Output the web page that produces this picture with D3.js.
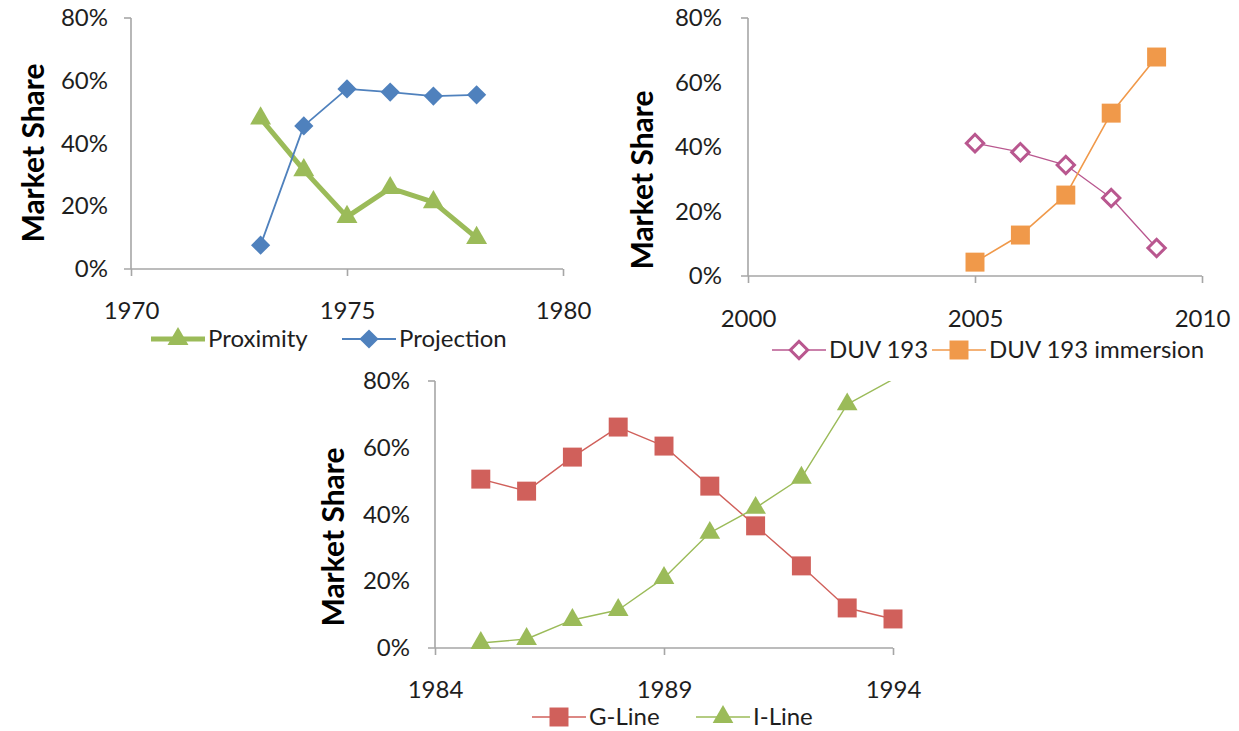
<!DOCTYPE html>
<html><head><meta charset="utf-8">
<script src="https://cdn.jsdelivr.net/npm/d3@7"></script>
<style>
html,body{margin:0;padding:0;background:#fff;}
svg text{font-family:Lato,"Open Sans",sans-serif;fill:#1e1e1e;}
</style></head>
<body><svg id="c" width="1239" height="731"></svg>
<script>
// ---------- data ----------
const yTicks = [0, 0.2, 0.4, 0.6, 0.8];

const years1 = [1973, 1974, 1975, 1976, 1977, 1978];
const proximity = [0.48, 0.315, 0.166, 0.258, 0.213, 0.099];
const projection = [0.076, 0.456, 0.574, 0.564, 0.551, 0.555];
const xTicks1 = [1970, 1975, 1980];

const years2 = [2005, 2006, 2007, 2008, 2009];
const duv193 = [0.412, 0.384, 0.344, 0.242, 0.087];
const duv193imm = [0.043, 0.127, 0.251, 0.505, 0.679];
const xTicks2 = [2000, 2005, 2010];

const years3 = [1985, 1986, 1987, 1988, 1989, 1990, 1991, 1992, 1993, 1994];
const gLine = [0.506, 0.470, 0.572, 0.662, 0.605, 0.485, 0.366, 0.246, 0.120, 0.087];
const iLine = [0.015, 0.027, 0.084, 0.114, 0.210, 0.345, 0.420, 0.510, 0.730, 0.805];
const xTicks3 = [1984, 1989, 1994];

const yTitle = "Market Share";

// ---------- drawing ----------
const svg = d3.select("#c");
const AXIS = "#a6a6a6";

function symbolPath(kind, size) {
  if (kind === "triangle") return d3.symbol(d3.symbolTriangle, size)();
  return d3.symbol(d3.symbolSquare, size)();
}

function marker(g, kind, size, color, hollow, x, y) {
  const p = g.append("path")
    .attr("d", symbolPath(kind, size))
    .attr("transform", `translate(${x},${y})` + (kind === "diamond" ? " rotate(45)" : ""));
  if (hollow) p.attr("fill", "#fff").attr("stroke", color).attr("stroke-width", 3);
  else p.attr("fill", color);
}

function drawChart(cfg) {
  const g = svg.append("g");
  const x = d3.scaleLinear().domain(cfg.xDomain).range([cfg.left, cfg.right]);
  const y = d3.scaleLinear().domain([0, 0.8]).range([cfg.bottom, cfg.top]);

  // y axis labels
  const ya = g.append("g").attr("transform", `translate(${cfg.left},0)`)
    .call(d3.axisLeft(y).tickValues(yTicks).tickFormat(d3.format(".0%")).tickSize(0).tickPadding(cfg.yPad));
  ya.select(".domain").remove();
  ya.selectAll("text").style("font-size", "24px").style("font-family", "Lato");

  // x axis labels + ticks
  const xa = g.append("g").attr("transform", `translate(0,${cfg.bottom})`)
    .call(d3.axisBottom(x).tickValues(cfg.xTicks).tickFormat(d3.format("d")).tickSize(7).tickPadding(cfg.xPad));
  xa.select(".domain").remove();
  xa.selectAll("line").attr("stroke", AXIS).attr("stroke-width", 1.6);
  xa.selectAll("text").style("font-size", "24px").style("font-family", "Lato");

  // axis lines
  g.append("line").attr("x1", x(cfg.xDomain[0])).attr("x2", x(cfg.xDomain[0]))
    .attr("y1", y(0.8)).attr("y2", y(0)).attr("stroke", AXIS).attr("stroke-width", 1.6);
  g.append("line").attr("x1", x(cfg.xDomain[0]) - 7).attr("x2", x(cfg.xDomain[1]))
    .attr("y1", y(0)).attr("y2", y(0)).attr("stroke", AXIS).attr("stroke-width", 1.6);
  g.append("line").attr("x1", x(cfg.xDomain[0]) - 7).attr("x2", x(cfg.xDomain[0]))
    .attr("y1", y(0.8)).attr("y2", y(0.8)).attr("stroke", AXIS).attr("stroke-width", 1.6);

  // y title
  g.append("text").attr("transform", `translate(${cfg.titleX},${cfg.titleY}) rotate(-90)`)
    .attr("text-anchor", "middle").attr("dy", "0.35em")
    .style("font-size", "30px").style("font-weight", "bold").style("fill", "#000").text(yTitle);

  // clip
  const cid = "clip" + cfg.id;
  g.append("clipPath").attr("id", cid).append("rect")
    .attr("x", cfg.left - 20).attr("y", cfg.top).attr("width", cfg.right - cfg.left + 40).attr("height", cfg.bottom - cfg.top + 20);
  const plot = g.append("g").attr("clip-path", `url(#${cid})`);

  const line = d3.line().x(d => x(d[0])).y(d => y(d[1]));
  cfg.series.forEach(s => {
    const pts = cfg.years.map((yr, i) => [yr, s.values[i]]);
    plot.append("path").attr("d", line(pts)).attr("fill", "none")
      .attr("stroke", s.color).attr("stroke-width", s.width).attr("stroke-linejoin", "round");
  });
  cfg.series.forEach(s => {
    cfg.years.forEach((yr, i) => {
      if (s.values[i] <= 0.8) marker(g, s.marker, s.size, s.color, s.hollow, x(yr), y(s.values[i]));
    });
  });

  // legend
  const lg = g.append("g");
  cfg.series.forEach((s, i) => {
    const lx = cfg.legendX[i], ly = cfg.legendY;
    lg.append("line").attr("x1", lx).attr("x2", lx + 54).attr("y1", ly).attr("y2", ly)
      .attr("stroke", s.color).attr("stroke-width", s.width);
    marker(lg, s.marker, s.size, s.color, s.hollow, lx + 27, ly);
    lg.append("text").attr("x", lx + 57).attr("y", ly).attr("dy", "0.35em")
      .style("font-size", "24px").text(s.name);
  });
}

drawChart({
  id: 1, xDomain: [1970, 1980], xTicks: xTicks1, years: years1,
  left: 131, right: 563, top: 18, bottom: 269, yPad: 23, xPad: 26, titleX: 33, titleY: 153,
  legendX: [151, 342], legendY: 339,
  series: [
    {name: "Proximity", values: proximity, color: "#9bbb59", width: 5, marker: "triangle", size: 190},
    {name: "Projection", values: projection, color: "#4f81bd", width: 1.8, marker: "diamond", size: 185}
  ]
});

drawChart({
  id: 2, xDomain: [2000, 2010], xTicks: xTicks2, years: years2,
  left: 748, right: 1202, top: 18, bottom: 276, yPad: 26, xPad: 27, titleX: 642, titleY: 180,
  legendX: [772, 932], legendY: 350,
  series: [
    {name: "DUV 193", values: duv193, color: "#b9578f", width: 1.3, marker: "diamond", size: 150, hollow: true},
    {name: "DUV 193 immersion", values: duv193imm, color: "#f0994a", width: 1.6, marker: "square", size: 360}
  ]
});

drawChart({
  id: 3, xDomain: [1984, 1994], xTicks: xTicks3, years: years3,
  left: 435, right: 893, top: 381, bottom: 648, yPad: 25, xPad: 26, titleX: 333, titleY: 537,
  legendX: [532, 696], legendY: 717,
  series: [
    {name: "G-Line", values: gLine, color: "#d0605b", width: 1.4, marker: "square", size: 360},
    {name: "I-Line", values: iLine, color: "#9bbb59", width: 1.4, marker: "triangle", size: 185}
  ]
});
</script></body></html>
